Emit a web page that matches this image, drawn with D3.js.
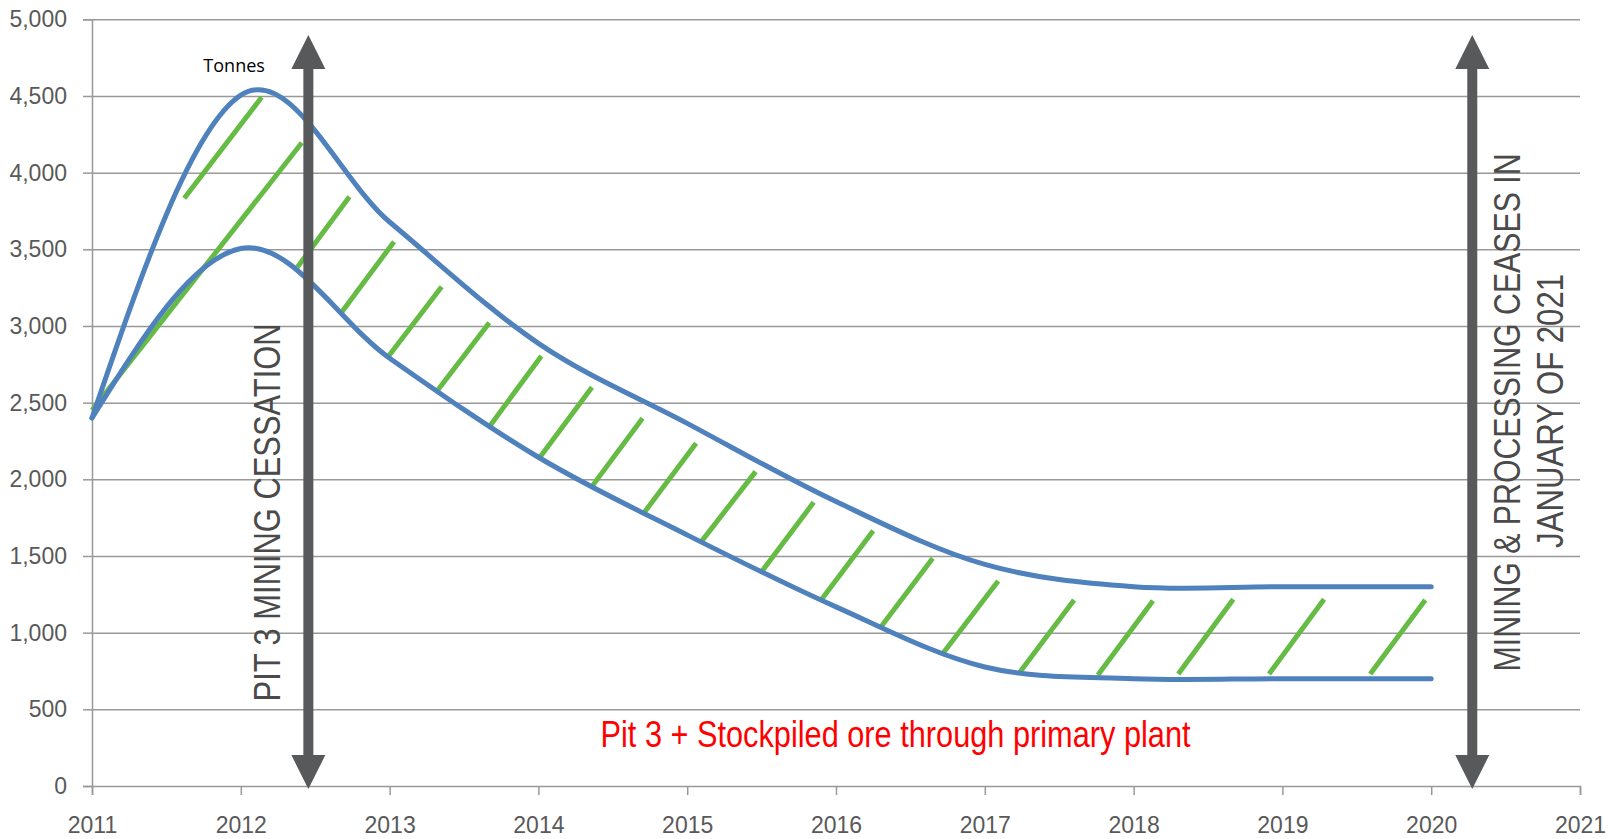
<!DOCTYPE html>
<html>
<head>
<meta charset="utf-8">
<script src="https://cdn.jsdelivr.net/npm/d3@7"></script>
<style>
 body { margin: 0; background: #fff; }
 .tick text { font-family: "Liberation Sans Narrow", "Arial Narrow", sans-serif; fill: #595959; }
</style>
</head>
<body>
<script>
// data (tonnes per year)
var years = [2011, 2012, 2013, 2014, 2015, 2016, 2017, 2018, 2019, 2020];
var upper = [2400, 4505, 3678, 2887, 2365, 1855, 1445, 1300, 1300, 1300];
var lower = [2400, 3505, 2790, 2144, 1637, 1168, 776, 700, 700, 700];

var xTicks = [2011, 2012, 2013, 2014, 2015, 2016, 2017, 2018, 2019, 2020, 2021];
var yTicks = [0, 500, 1000, 1500, 2000, 2500, 3000, 3500, 4000, 4500, 5000];

// hatch strokes between the two curves: [year0, value0, year1, value1]
var hatch = [
 [2011.00, 2450, 2012.41, 4195],
 [2011.62, 3833, 2012.14, 4491],
 [2012.38, 3383, 2012.73, 3843],
 [2012.68, 3093, 2013.03, 3550],
 [2012.99, 2800, 2013.35, 3256],
 [2013.31, 2565, 2013.67, 3021],
 [2013.67, 2343, 2014.02, 2804],
 [2014.01, 2144, 2014.36, 2600],
 [2014.35, 1941, 2014.70, 2398],
 [2014.71, 1782, 2015.06, 2235],
 [2015.10, 1600, 2015.46, 2050],
 [2015.50, 1398, 2015.85, 1850],
 [2015.90, 1213, 2016.25, 1665],
 [2016.30, 1035, 2016.65, 1485],
 [2016.71, 854, 2017.09, 1337],
 [2017.23, 735, 2017.60, 1213],
 [2017.76, 724, 2018.13, 1208],
 [2018.30, 730, 2018.67, 1218],
 [2018.91, 730, 2019.28, 1218],
 [2019.59, 730, 2019.96, 1213]
];

// the two milestone arrows
var arrowYears = [2012.454, 2020.276];
var arrowSpan = [-20, 4898];

var width = 1617,
 height = 839;

var x = d3.scaleLinear().domain([2011, 2021]).range([92, 1580]);
var y = d3.scaleLinear().domain([0, 5000]).range([786, 19.3]);

var svg = d3.select("body").append("svg")
 .attr("width", width)
 .attr("height", height);

// gridlines
svg.append("g")
 .attr("transform", "translate(92,0)")
 .call(d3.axisLeft(y).tickValues(yTicks.slice(1)).tickSize(-(1580 - 92)).tickFormat(""))
 .call(function(g) { g.select(".domain").remove(); })
 .selectAll("line")
 .attr("stroke", "#a6a6a6")
 .attr("stroke-width", 1.5);

// y axis
var yAxis = svg.append("g")
 .attr("transform", "translate(92,0)")
 .call(d3.axisLeft(y).tickValues(yTicks).tickSize(9).tickPadding(16).tickFormat(d3.format(",")));
yAxis.selectAll("text").style("font-size", "23px");

// x axis
var xAxis = svg.append("g")
 .attr("transform", "translate(0,786)")
 .call(d3.axisBottom(x).tickValues(xTicks).tickSize(9).tickPadding(22).tickFormat(d3.format("d")));
xAxis.selectAll("text").style("font-size", "23px");

svg.selectAll(".domain, .tick line")
 .attr("stroke", "#999")
 .attr("stroke-width", 1.5);

// green hatch
svg.append("g").selectAll("line")
 .data(hatch)
 .enter().append("line")
 .attr("x1", function(d) { return x(d[0]); })
 .attr("y1", function(d) { return y(d[1]); })
 .attr("x2", function(d) { return x(d[2]); })
 .attr("y2", function(d) { return y(d[3]); })
 .attr("stroke", "#66bb44")
 .attr("stroke-width", 5);

// smoothed line like the spreadsheet one: catmull-rom inside,
// natural (zero curvature) tangent at both ends
function smooth(values) {
 var p = values.map(function(v, i) { return [x(years[i]), y(v)]; });
 var n = p.length, m = [], i;
 for (i = 1; i < n - 1; i++) {
  m[i] = [(p[i + 1][0] - p[i - 1][0]) / 2, (p[i + 1][1] - p[i - 1][1]) / 2];
 }
 m[0] = [(3 * (p[1][0] - p[0][0]) - m[1][0]) / 2, (3 * (p[1][1] - p[0][1]) - m[1][1]) / 2];
 m[n - 1] = [(3 * (p[n - 1][0] - p[n - 2][0]) - m[n - 2][0]) / 2,
  (3 * (p[n - 1][1] - p[n - 2][1]) - m[n - 2][1]) / 2];
 var path = d3.path();
 path.moveTo(p[0][0], p[0][1]);
 for (i = 0; i < n - 1; i++) {
  path.bezierCurveTo(
   p[i][0] + m[i][0] / 3, p[i][1] + m[i][1] / 3,
   p[i + 1][0] - m[i + 1][0] / 3, p[i + 1][1] - m[i + 1][1] / 3,
   p[i + 1][0], p[i + 1][1]);
 }
 return path.toString();
}

svg.append("g").selectAll("path")
 .data([upper, lower])
 .enter().append("path")
 .attr("d", smooth)
 .attr("fill", "none")
 .attr("stroke", "#4f81bd")
 .attr("stroke-width", 5)
 .attr("stroke-linecap", "round");

// double headed arrows
var head = 34, half = 17, shaft = 5;
svg.append("g").selectAll("path")
 .data(arrowYears)
 .enter().append("path")
 .attr("fill", "#58595b")
 .attr("d", function(d) {
  var cx = x(d), top = y(arrowSpan[1]), bot = y(arrowSpan[0]);
  return "M" + cx + "," + top +
   "L" + (cx + half) + "," + (top + head) +
   "L" + (cx + shaft) + "," + (top + head) +
   "L" + (cx + shaft) + "," + (bot - head) +
   "L" + (cx + half) + "," + (bot - head) +
   "L" + cx + "," + bot +
   "L" + (cx - half) + "," + (bot - head) +
   "L" + (cx - shaft) + "," + (bot - head) +
   "L" + (cx - shaft) + "," + (top + head) +
   "L" + (cx - half) + "," + (top + head) + "Z";
 });

// vertical captions
var captions = [
 {text: "PIT 3 MINING CESSATION", x: 2012.265, y: 1784, len: 378},
 {text: "MINING & PROCESSING CEASES IN", x: 2020.597, y: 2436, len: 518},
 {text: "JANUARY OF 2021", x: 2020.885, y: 2446, len: 274}
];
svg.append("g").selectAll("text")
 .data(captions)
 .enter().append("text")
 .attr("transform", function(d) { return "translate(" + x(d.x) + "," + y(d.y) + ") rotate(-90)"; })
 .attr("text-anchor", "middle")
 .attr("textLength", function(d) { return d.len; })
 .attr("lengthAdjust", "spacingAndGlyphs")
 .style("font", "37px 'Liberation Sans Narrow', 'Arial Narrow', sans-serif")
 .style("fill", "#4a4a4a")
 .text(function(d) { return d.text; });

// red note
svg.append("text")
 .attr("x", x(2016.4))
 .attr("y", y(256))
 .attr("text-anchor", "middle")
 .attr("textLength", 590)
 .attr("lengthAdjust", "spacingAndGlyphs")
 .style("font", "37px 'Liberation Sans Narrow', 'Arial Narrow', sans-serif")
 .style("fill", "#ff0000")
 .text("Pit 3 + Stockpiled ore through primary plant");

// unit label
svg.append("text")
 .attr("x", x(2011.955))
 .attr("y", y(4658))
 .attr("text-anchor", "middle")
 .style("font", "18px 'Open Sans', sans-serif")
 .style("fill", "#000")
 .text("Tonnes");
</script>
</body>
</html>
